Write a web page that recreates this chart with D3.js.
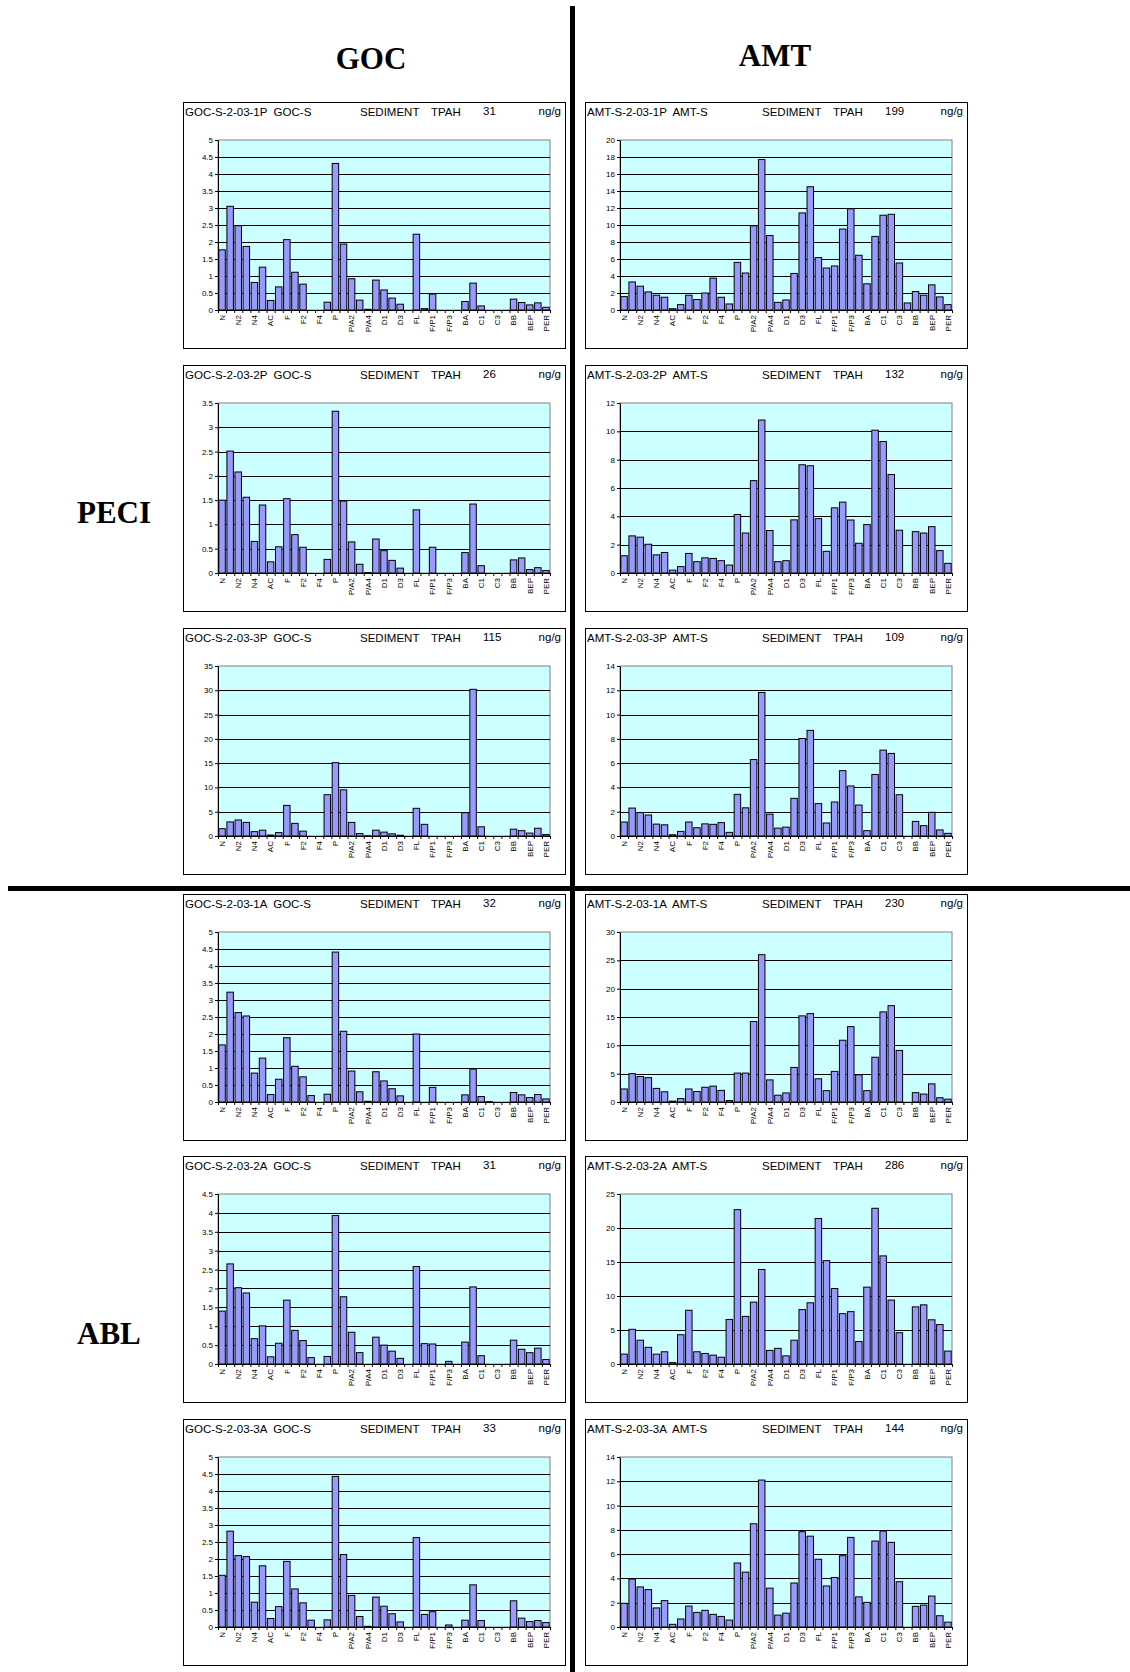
<!DOCTYPE html>
<html>
<head>
<meta charset="utf-8">
<script src="https://cdn.jsdelivr.net/npm/d3@7"></script>
<style>
  body { margin: 0; background: #fff; }
  svg text { font-family: "Liberation Sans", Arial, sans-serif; }
  .heading { font-family: "Liberation Serif", "Times New Roman", serif; font-weight: bold; font-size: 31px; }
</style>
</head>
<body>
<svg id="chart" width="1130" height="1672"></svg>
<script>
// PAH compounds (only every other one gets a label on the axis)
const compounds = ['N', 'N1', 'N2', 'N3', 'N4', 'B', 'AC', 'AE', 'F', 'F1', 'F2', 'F3', 'F4', 'A',
  'P', 'P/A1', 'P/A2', 'P/A3', 'P/A4', 'D', 'D1', 'D2', 'D3', 'D4', 'FL', 'PY', 'F/P1', 'F/P2',
  'F/P3', 'F/P4', 'BA', 'C', 'C1', 'C2', 'C3', 'C4', 'BB', 'BK', 'BEP', 'BAP', 'PER'];

const sites = ['GOC', 'AMT'];
const groups = ['PECI', 'ABL'];

// GOC column, top to bottom
const goc1P = [1.77, 3.05, 2.48, 1.87, 0.81, 1.26, 0.28, 0.68, 2.07, 1.11, 0.76, 0, 0, 0.23, 4.31, 1.94, 0.92, 0.29, 0.02, 0.88, 0.59, 0.35, 0.17, 0, 2.23, 0.04, 0.47, 0, 0, 0, 0.25, 0.79, 0.12, 0, 0, 0, 0.32, 0.22, 0.15, 0.21, 0.08];
const goc2P = [1.5, 2.51, 2.08, 1.56, 0.65, 1.4, 0.23, 0.54, 1.53, 0.79, 0.53, 0, 0, 0.28, 3.33, 1.48, 0.64, 0.18, 0.01, 0.7, 0.46, 0.26, 0.1, 0, 1.3, 0, 0.53, 0, 0, 0, 0.42, 1.42, 0.15, 0, 0, 0, 0.27, 0.31, 0.07, 0.11, 0.05];
const goc3P = [1.5, 2.9, 3.3, 2.8, 0.9, 1.2, 0.2, 0.7, 6.3, 2.6, 1.0, 0, 0, 8.5, 15.1, 9.5, 2.8, 0.5, 0.05, 1.2, 0.8, 0.45, 0.15, 0, 5.7, 2.4, 0, 0, 0, 0, 4.8, 30.2, 1.9, 0, 0, 0, 1.4, 1.1, 0.6, 1.6, 0.3];
const goc1A = [1.68, 3.23, 2.63, 2.53, 0.85, 1.29, 0.22, 0.67, 1.89, 1.05, 0.74, 0.19, 0, 0.23, 4.41, 2.08, 0.91, 0.3, 0.02, 0.89, 0.62, 0.39, 0.18, 0, 2.0, 0, 0.43, 0, 0, 0, 0.21, 0.97, 0.16, 0.01, 0, 0, 0.28, 0.21, 0.13, 0.22, 0.09];
const goc2A = [1.4, 2.65, 2.02, 1.88, 0.67, 1.01, 0.19, 0.55, 1.69, 0.89, 0.62, 0.17, 0, 0.2, 3.93, 1.78, 0.84, 0.3, 0, 0.71, 0.5, 0.34, 0.15, 0, 2.58, 0.54, 0.53, 0, 0.07, 0, 0.58, 2.04, 0.22, 0, 0, 0, 0.63, 0.39, 0.3, 0.42, 0.12];
const goc3A = [1.52, 2.82, 2.1, 2.07, 0.73, 1.8, 0.25, 0.6, 1.93, 1.12, 0.71, 0.2, 0, 0.21, 4.43, 2.13, 0.93, 0.31, 0.02, 0.88, 0.61, 0.39, 0.15, 0, 2.63, 0.37, 0.45, 0, 0.06, 0, 0.2, 1.24, 0.19, 0, 0, 0, 0.77, 0.26, 0.16, 0.19, 0.13];

// AMT column, top to bottom
const amt1P = [1.58, 3.3, 2.8, 2.13, 1.74, 1.5, 0.15, 0.63, 1.74, 1.23, 2.0, 3.75, 1.5, 0.71, 5.6, 4.35, 9.9, 17.7, 8.77, 0.9, 1.18, 4.3, 11.42, 14.5, 6.17, 4.94, 5.18, 9.52, 11.9, 6.44, 3.08, 8.66, 11.15, 11.26, 5.53, 0.83, 2.17, 1.74, 2.96, 1.54, 0.63];
const amt2P = [1.22, 2.62, 2.53, 2.03, 1.28, 1.45, 0.2, 0.45, 1.38, 0.8, 1.07, 1.03, 0.87, 0.56, 4.13, 2.82, 6.52, 10.8, 3.0, 0.8, 0.87, 3.75, 7.64, 7.57, 3.84, 1.53, 4.6, 5.0, 3.74, 2.1, 3.42, 10.08, 9.28, 6.95, 3.02, 0, 2.92, 2.82, 3.27, 1.58, 0.68];
const amt3P = [1.15, 2.3, 1.93, 1.73, 0.98, 0.92, 0.1, 0.38, 1.15, 0.68, 1.0, 0.96, 1.1, 0.3, 3.43, 2.32, 6.3, 11.82, 1.8, 0.65, 0.73, 3.1, 8.03, 8.7, 2.67, 1.07, 2.8, 5.38, 4.12, 2.55, 0.44, 5.07, 7.07, 6.8, 3.4, 0, 1.2, 0.85, 1.95, 0.5, 0.22];
const amt1A = [2.3, 5.0, 4.5, 4.3, 2.4, 1.8, 0.15, 0.6, 2.3, 1.85, 2.6, 2.8, 2.05, 0.25, 5.1, 5.1, 14.2, 26.0, 3.9, 1.2, 1.6, 6.1, 15.2, 15.6, 4.1, 2.0, 5.4, 10.9, 13.3, 4.8, 2.0, 7.9, 15.9, 17.0, 9.1, 0, 1.65, 1.4, 3.2, 0.75, 0.5];
const amt2A = [1.45, 5.1, 3.5, 2.45, 1.45, 1.8, 0.2, 4.3, 7.9, 1.8, 1.55, 1.3, 1.0, 6.55, 22.7, 7.0, 9.1, 13.9, 2.0, 2.3, 1.2, 3.5, 8.0, 9.0, 21.4, 15.2, 11.1, 7.4, 7.7, 3.3, 11.3, 22.9, 15.9, 9.4, 4.6, 0, 8.4, 8.7, 6.5, 5.8, 1.9];
const amt3A = [1.95, 3.95, 3.3, 3.08, 1.57, 2.17, 0.22, 0.66, 1.72, 1.2, 1.37, 1.04, 0.87, 0.57, 5.27, 4.52, 8.5, 12.1, 3.2, 0.98, 1.14, 3.62, 7.85, 7.48, 5.58, 3.38, 4.08, 5.87, 7.38, 2.48, 2.03, 7.08, 7.9, 6.97, 3.73, 0, 1.7, 1.8, 2.55, 0.93, 0.4];

const sampleSuffix = ['1P', '2P', '3P', '1A', '2A', '3A'];
const gocTpah = [31, 26, 115, 32, 31, 33];
const amtTpah = [199, 132, 109, 230, 286, 144];
const gocAxisMax = [5, 3.5, 35, 5, 4.5, 5];
const gocAxisStep = [0.5, 0.5, 5, 0.5, 0.5, 0.5];
const amtAxisMax = [20, 12, 14, 30, 25, 14];
const amtAxisStep = [2, 2, 2, 5, 5, 2];

const gocSeries = [goc1P, goc2P, goc3P, goc1A, goc2A, goc3A];
const amtSeries = [amt1P, amt2P, amt3P, amt1A, amt2A, amt3A];

// layout
const panelW = 382, panelH = 246;
const colX = [183, 585];
const rowY = [102, 365, 628, 894, 1156, 1419];
const margin = { top: 38, right: 15, bottom: 38, left: 35 };
const plotW = panelW - margin.left - margin.right;
const plotH = panelH - margin.top - margin.bottom;

const svg = d3.select('#chart');

// big headings
svg.selectAll('text.site')
    .data(sites)
    .join('text')
    .attr('class', 'heading site')
    .attr('x', (d, i) => [371, 775][i])
    .attr('y', (d, i) => [69, 66][i])
    .attr('text-anchor', 'middle')
    .text((d) => d);

svg.selectAll('text.group')
    .data(groups)
    .join('text')
    .attr('class', 'heading group')
    .attr('x', 77)
    .attr('y', (d, i) => [523, 1344][i])
    .text((d) => d);

// dividers
svg.append('line').attr('x1', 572.5).attr('x2', 572.5).attr('y1', 6).attr('y2', 1672)
    .attr('stroke', '#000').attr('stroke-width', 5);
svg.append('line').attr('x1', 8).attr('x2', 1130).attr('y1', 888.5).attr('y2', 888.5)
    .attr('stroke', '#000').attr('stroke-width', 5);

const x = d3.scaleBand().domain(compounds).range([0, plotW]).paddingInner(0.2).paddingOuter(0.1);
const xEdge = d3.scaleLinear().domain([0, compounds.length]).range([0, plotW]);

function drawPanel(col, row, site, values, tpah, yMax, yStep) {
    const g = svg.append('g').attr('transform', `translate(${colX[col]},${rowY[row]})`);

    g.append('rect')
        .attr('x', 0.5).attr('y', 0.5)
        .attr('width', panelW).attr('height', panelH)
        .attr('fill', '#fff').attr('stroke', '#000').attr('stroke-width', 1);

    // header line
    const header = g.append('g').style('font-size', '11.5px');
    header.append('text').attr('x', 2).attr('y', 14).style('white-space', 'pre')
        .text(`${site}-S-2-03-${sampleSuffix[row]}  ${site}-S`);
    header.append('text').attr('x', 177).attr('y', 14).text('SEDIMENT');
    header.append('text').attr('x', 248).attr('y', 14).text('TPAH');
    header.append('text').attr('x', 300).attr('y', 13).text(tpah);
    header.append('text').attr('x', panelW - 4).attr('y', 13).attr('text-anchor', 'end').text('ng/g');

    const plot = g.append('g').attr('transform', `translate(${margin.left},${margin.top})`);
    const y = d3.scaleLinear().domain([0, yMax]).range([plotH, 0]);
    const ticks = d3.range(0, Math.round(yMax / yStep) + 1).map((i) => +(i * yStep).toFixed(2));

    plot.append('rect').attr('width', plotW).attr('height', plotH)
        .attr('fill', '#ccffff').attr('stroke', '#808080').attr('stroke-width', 1);

    // gridlines
    plot.selectAll('line.grid')
        .data(ticks.filter((t) => t > 0 && t < yMax))
        .join('line')
        .attr('x1', 0).attr('x2', plotW)
        .attr('y1', (d) => Math.round(y(d)) + 0.5).attr('y2', (d) => Math.round(y(d)) + 0.5)
        .attr('stroke', '#000').attr('stroke-width', 1);

    // bars
    plot.selectAll('rect.bar')
        .data(compounds.map((c, i) => ({ key: c, value: values[i] })).filter((d) => d.value > 0))
        .join('rect')
        .attr('x', (d) => x(d.key))
        .attr('y', (d) => y(d.value))
        .attr('width', x.bandwidth())
        .attr('height', (d) => plotH - y(d.value))
        .attr('fill', '#9999ff')
        .attr('stroke', '#000')
        .attr('stroke-width', 1);

    // y axis
    const yAxis = plot.append('g')
        .call(d3.axisLeft(y).tickValues(ticks).tickSize(3).tickSizeOuter(0).tickFormat(d3.format('~g')));
    yAxis.selectAll('text').style('font-size', '8px').attr('x', -5);

    // x axis: tick marks between categories, labels on every other one
    plot.append('g')
        .attr('transform', `translate(0,${plotH})`)
        .call(d3.axisBottom(xEdge).tickValues(d3.range(compounds.length + 1)).tickSize(3).tickSizeOuter(0).tickFormat(''));

    const xLabels = plot.append('g')
        .attr('transform', `translate(0,${plotH})`)
        .call(d3.axisBottom(x).tickValues(compounds.filter((d, i) => i % 2 === 0)).tickSize(0));
    xLabels.select('.domain').remove();
    xLabels.selectAll('text')
        .style('font-size', '8px')
        .attr('transform', 'rotate(-90)')
        .attr('text-anchor', 'end')
        .attr('x', -5)
        .attr('y', 0)
        .attr('dy', '0.35em');
}

for (let r = 0; r < 6; r++) {
    drawPanel(0, r, 'GOC', gocSeries[r], gocTpah[r], gocAxisMax[r], gocAxisStep[r]);
    drawPanel(1, r, 'AMT', amtSeries[r], amtTpah[r], amtAxisMax[r], amtAxisStep[r]);
}
</script>
</body>
</html>
